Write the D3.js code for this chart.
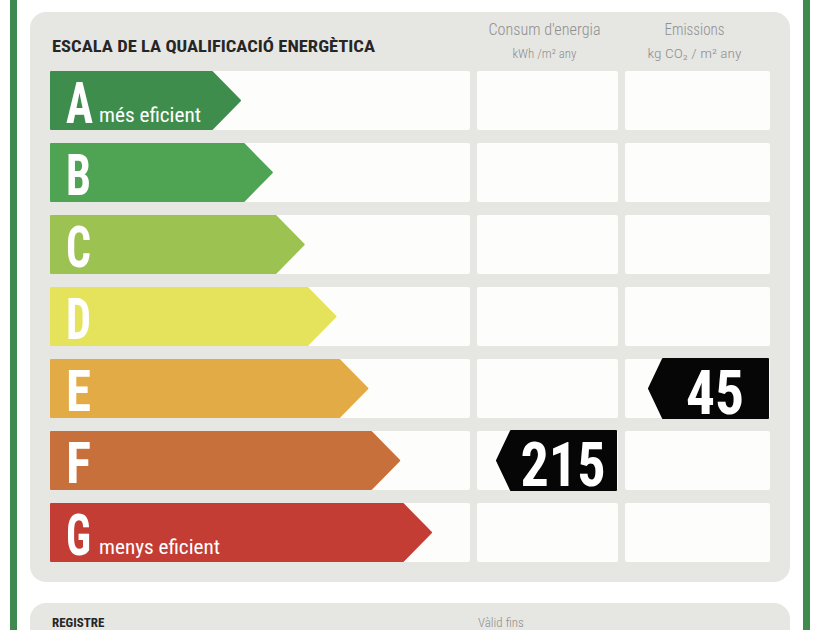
<!DOCTYPE html>
<html>
<head>
<meta charset="utf-8">
<script src="https://cdn.jsdelivr.net/npm/d3@7"></script>
<style>
  body { margin: 0; background: #fff; }
  svg { display: block; }
</style>
</head>
<body>
<svg id="plot" width="840" height="630"></svg>
<script>
// data
const ratings = ["A", "B", "C", "D", "E", "F", "G"];
const ratingNotes = ["més eficient", "", "", "", "", "", "menys eficient"];
const ratingColors = ["#3e8d4d", "#4fa453", "#9cc251", "#e5e35c", "#e2ab46", "#c8703c", "#c33d35"];
const consumption = [{ rating: "F", value: 215 }];
const emissions = [{ rating: "E", value: 45 }];
const title = "ESCALA DE LA QUALIFICACIÓ ENERGÈTICA";
const colHeads = [
    ["Consum d'energia", "kWh /m² any"],
    ["Emissions", "kg CO₂ / m² any"]
];

const svg = d3.select("#plot");
const condensed = "'Roboto Condensed','Liberation Sans Narrow','DejaVu Sans Condensed','Roboto',sans-serif";

const y = d3.scaleBand().domain(ratings).range([71, 562]).paddingInner(13 / 72);
const tipX = d3.scaleLinear().domain([0, ratings.length - 1]).range([240, 431]);

const col1 = { x0: 50, x1: 470 };
const col2 = { x0: 477, x1: 618 };
const col3 = { x0: 625, x1: 770 };

// green frame lines
svg.append("rect").attr("x", 10).attr("y", 0).attr("width", 7).attr("height", 630).attr("fill", "#3f8a4e");
svg.append("rect").attr("x", 803).attr("y", 0).attr("width", 7).attr("height", 630).attr("fill", "#3f8a4e");

// panels
svg.append("rect").attr("x", 30).attr("y", 12).attr("width", 760).attr("height", 570)
    .attr("rx", 16).attr("fill", "#e6e6e3");
svg.append("rect").attr("x", 30).attr("y", 603).attr("width", 760).attr("height", 60)
    .attr("rx", 16).attr("fill", "#e6e6e3");

svg.append("text")
    .attr("x", 52).attr("y", 52)
    .attr("font-family", condensed).attr("font-weight", "bold").attr("font-size", 16.5)
    .attr("fill", "#262626")
    .attr("textLength", 323).attr("lengthAdjust", "spacingAndGlyphs")
    .text(title);

// column headers
[col2, col3].forEach(function(c, i) {
    const cx = (c.x0 + c.x1) / 2 - 3;
    svg.append("text")
        .attr("x", cx).attr("y", 35).attr("text-anchor", "middle")
        .attr("font-family", condensed).attr("font-weight", 300).attr("font-size", 16)
        .attr("fill", "#8f8f8f")
        .attr("textLength", i == 0 ? 112 : 60).attr("lengthAdjust", "spacingAndGlyphs")
        .text(colHeads[i][0]);
    svg.append("text")
        .attr("x", cx).attr("y", 58).attr("text-anchor", "middle")
        .attr("font-family", condensed).attr("font-weight", 300).attr("font-size", 12.5)
        .attr("fill", "#8f8f8f")
        .attr("textLength", i == 0 ? 64 : 94).attr("lengthAdjust", "spacingAndGlyphs")
        .text(colHeads[i][1]);
});

// white cells
const rows = svg.selectAll("g.row")
    .data(ratings)
    .enter().append("g")
    .attr("class", "row")
    .attr("transform", function(d) { return "translate(0," + y(d) + ")"; });

[col1, col2, col3].forEach(function(c) {
    rows.append("rect")
        .attr("x", c.x0).attr("width", c.x1 - c.x0)
        .attr("height", y.bandwidth())
        .attr("rx", 2).attr("fill", "#fdfdfb");
});

// rating arrows
const h = y.bandwidth();
rows.append("path")
    .attr("fill", function(d, i) { return ratingColors[i]; })
    .attr("stroke", function(d, i) { return ratingColors[i]; })
    .attr("stroke-width", 2).attr("stroke-linejoin", "round")
    .attr("d", function(d, i) {
        const t = tipX(i), b = t - 28;
        return "M" + (col1.x0 + 1) + "," + 1 + "L" + b + ",1L" + t + "," + h / 2 +
            "L" + b + "," + (h - 1) + "L" + (col1.x0 + 1) + "," + (h - 1) + "Z";
    });

rows.append("text")
    .attr("x", 66).attr("y", 52)
    .attr("font-family", condensed).attr("font-weight", "bold").attr("font-size", 57)
    .attr("fill", "#fff")
    .attr("textLength", function(d) { return d == "A" ? 27 : 25; })
    .attr("lengthAdjust", "spacingAndGlyphs")
    .text(function(d) { return d; });

rows.filter(function(d, i) { return ratingNotes[i] != ""; })
    .append("text")
    .attr("x", 99).attr("y", 51)
    .attr("font-family", condensed).attr("font-weight", "normal").attr("font-size", 21)
    .attr("fill", "#fff")
    .attr("textLength", function(d) { return d == "A" ? 102 : 121; })
    .attr("lengthAdjust", "spacingAndGlyphs")
    .text(function(d) { return ratingNotes[ratings.indexOf(d)]; });

// value badges
function badge(data, c) {
    const g = svg.selectAll(null)
        .data(data)
        .enter().append("g")
        .attr("transform", function(d) { return "translate(" + (c.x1 - 2) + "," + y(d.rating) + ")"; });
    g.append("path")
        .attr("fill", "#060606")
        .attr("stroke", "#060606").attr("stroke-width", 2).attr("stroke-linejoin", "round")
        .attr("d", "M0,0L-105,0L-119," + h / 2 + "L-105," + h + "L0," + h + "Z");
    g.append("text")
        .attr("x", -53).attr("y", h - 4).attr("text-anchor", "middle")
        .attr("font-family", condensed).attr("font-weight", "bold").attr("font-size", 62)
        .attr("fill", "#fff")
        .attr("textLength", function(d) { return String(d.value).length * 27 + 4; })
        .attr("lengthAdjust", "spacingAndGlyphs")
        .text(function(d) { return d.value; });
}
badge(consumption, col2);
badge(emissions, col3);

// second panel labels
svg.append("text")
    .attr("x", 52).attr("y", 627)
    .attr("font-family", condensed).attr("font-weight", "bold").attr("font-size", 13)
    .attr("fill", "#262626")
    .text("REGISTRE");
svg.append("text")
    .attr("x", 478).attr("y", 627)
    .attr("font-family", condensed).attr("font-weight", 300).attr("font-size", 13)
    .attr("fill", "#8f8f8f")
    .text("Vàlid fins");
</script>
</body>
</html>
